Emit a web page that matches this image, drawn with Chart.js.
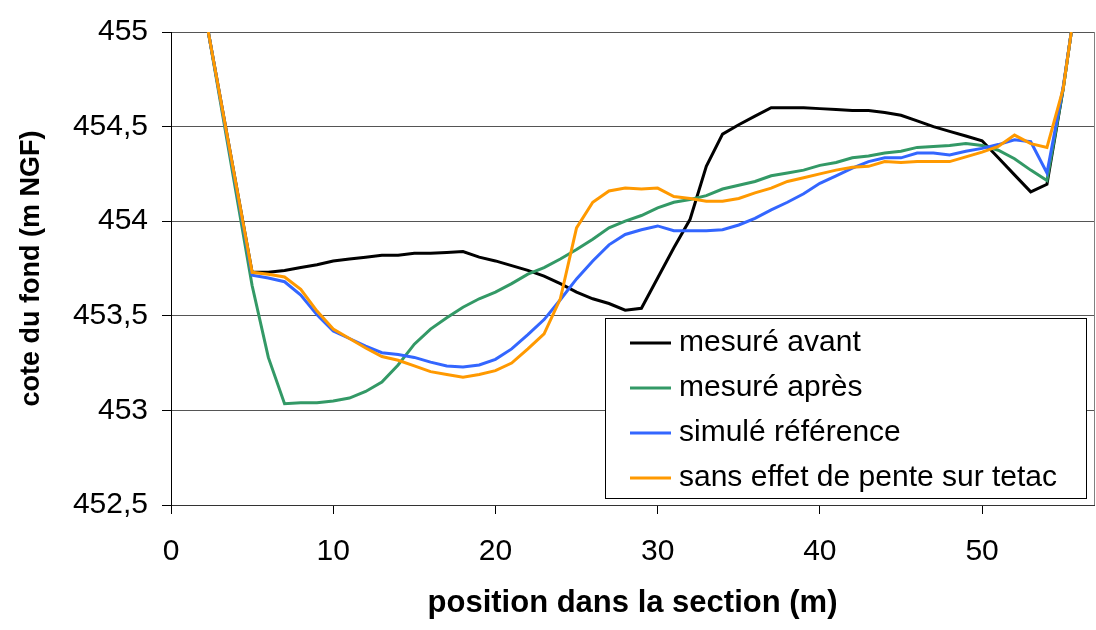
<!DOCTYPE html>
<html>
<head>
<meta charset="utf-8">
<script src="https://cdn.jsdelivr.net/npm/chart.js@4.4.1/dist/chart.umd.min.js"></script>
<style>
  body { margin: 0; background: #fff; }
  #wrap { width: 1096px; height: 630px; }
</style>
</head>
<body>
<div id="wrap"><canvas id="profileChart"></canvas></div>
<script>
const ctx = document.getElementById('profileChart').getContext('2d');

// position dans la section (m)
const positions = [2.3,
  5, 6, 7, 8, 9, 10, 11, 12, 13, 14,
  15, 16, 17, 18, 19, 20, 21, 22, 23, 24,
  25, 26, 27, 28, 29, 30, 31, 32, 33, 34,
  35, 36, 37, 38, 39, 40, 41, 42, 43, 44,
  45, 46, 47, 48, 49, 50, 51, 52, 53, 54,
  55, 55.5];

// cote du fond (m NGF)
const mesureAvant = [455,
  453.73, 453.73, 453.74, 453.755, 453.77, 453.79, 453.80, 453.81, 453.82, 453.82,
  453.83, 453.83, 453.835, 453.84, 453.81, 453.79, 453.765, 453.74, 453.71, 453.67,
  453.625, 453.59, 453.565, 453.53, 453.54, 453.70, 453.86, 454.01, 454.29, 454.46,
  454.51, 454.555, 454.60, 454.60, 454.60, 454.595, 454.59, 454.585, 454.585, 454.575,
  454.56, 454.53, 454.50, 454.475, 454.45, 454.425, 454.335, 454.245, 454.155, 454.195,
  454.70, 455];

const mesureApres = [455,
  453.66, 453.28, 453.035, 453.04, 453.04, 453.05, 453.065, 453.10, 453.15, 453.24,
  453.35, 453.43, 453.49, 453.545, 453.59, 453.625, 453.67, 453.72, 453.755, 453.80,
  453.85, 453.905, 453.965, 454.00, 454.03, 454.07, 454.10, 454.115, 454.135, 454.17,
  454.19, 454.21, 454.24, 454.255, 454.27, 454.295, 454.31, 454.335, 454.345, 454.36,
  454.37, 454.39, 454.395, 454.40, 454.41, 454.40, 454.375, 454.33, 454.27, 454.215,
  454.70, 455];

const simuleReference = [455,
  453.715, 453.70, 453.68, 453.61, 453.505, 453.42, 453.38, 453.34, 453.305, 453.295,
  453.28, 453.255, 453.235, 453.23, 453.24, 453.27, 453.325, 453.40, 453.48, 453.585,
  453.695, 453.79, 453.875, 453.93, 453.955, 453.975, 453.95, 453.95, 453.95, 453.955,
  453.98, 454.015, 454.06, 454.10, 454.145, 454.20, 454.24, 454.28, 454.315, 454.335,
  454.335, 454.36, 454.36, 454.35, 454.37, 454.385, 454.405, 454.43, 454.42, 454.255,
  454.71, 455];

const sansEffetPente = [455,
  453.73, 453.72, 453.705, 453.64, 453.525, 453.43, 453.38, 453.33, 453.285, 453.265,
  453.235, 453.205, 453.19, 453.175, 453.19, 453.21, 453.25, 453.325, 453.405, 453.59,
  453.965, 454.10, 454.16, 454.175, 454.17, 454.175, 454.13, 454.12, 454.105, 454.105,
  454.12, 454.15, 454.175, 454.21, 454.23, 454.25, 454.27, 454.285, 454.29, 454.315,
  454.31, 454.315, 454.315, 454.315, 454.34, 454.365, 454.395, 454.455, 454.41, 454.39,
  454.70, 455];

const FONT = '"Liberation Sans", Arial, sans-serif';

function toPoints(values) {
    return positions.map((x, i) => ({ x: x, y: values[i] }));
}

// plot frame + legend box drawn inside the plot area, like the excel chart
const framePlugin = {
    id: 'frame',
    beforeDatasetsDraw(chart) {
        const { ctx, chartArea: a } = chart;
        ctx.save();
        ctx.strokeStyle = '#808080';
        ctx.lineWidth = 1;
        ctx.beginPath();
        ctx.moveTo(a.right + 0.5, a.top);
        ctx.lineTo(a.right + 0.5, a.bottom);
        ctx.stroke();
        ctx.restore();
    },
    afterDraw(chart) {
        const { ctx, chartArea: a } = chart;
        const boxW = 481, boxH = 180;
        const x0 = a.right - 8 - boxW;
        const y0 = a.bottom - 7 - boxH;
        ctx.save();
        ctx.fillStyle = '#fff';
        ctx.fillRect(x0, y0, boxW, boxH);
        ctx.strokeStyle = '#000';
        ctx.lineWidth = 1;
        ctx.strokeRect(x0 + 0.5, y0 + 0.5, boxW, boxH);
        ctx.font = '30px ' + FONT;
        ctx.textBaseline = 'middle';
        ctx.fillStyle = '#000';
        chart.data.datasets.forEach((ds, i) => {
            const y = y0 + 25 + i * 45;
            ctx.strokeStyle = ds.borderColor;
            ctx.lineWidth = 3;
            ctx.beginPath();
            ctx.moveTo(x0 + 25, y);
            ctx.lineTo(x0 + 66, y);
            ctx.stroke();
            ctx.fillText(ds.label, x0 + 74, y);
        });
        ctx.restore();
    }
};

const chart = new Chart(ctx, {
    type: 'line',
    data: {
        datasets: [
            { label: 'mesuré avant', data: toPoints(mesureAvant), borderColor: '#000000', order: 3 },
            { label: 'mesuré après', data: toPoints(mesureApres), borderColor: '#339966', order: 2 },
            { label: 'simulé référence', data: toPoints(simuleReference), borderColor: '#3366ff', order: 1 },
            { label: 'sans effet de pente sur tetac', data: toPoints(sansEffetPente), borderColor: '#ff9900', order: 0 }
        ]
    },
    options: {
        responsive: true,
        maintainAspectRatio: false,
        animation: false,
        layout: { padding: { left: 0, top: 31, right: 2, bottom: 0 } },
        elements: {
            line: { borderWidth: 3, tension: 0, fill: false },
            point: { radius: 0, hoverRadius: 0 }
        },
        scales: {
            x: {
                type: 'linear',
                min: 0,
                max: 56.9,
                afterFit: (scale) => { scale.height = 125; },
                ticks: {
                    stepSize: 10,
                    includeBounds: false,
                    color: '#000',
                    padding: 20,
                    maxRotation: 0,
                    font: { family: FONT, size: 30 }
                },
                grid: { drawOnChartArea: false, drawTicks: true, tickLength: 9, color: '#000' },
                border: { display: true, color: '#333', width: 1 },
                title: {
                    display: true,
                    text: 'position dans la section (m)',
                    color: '#000',
                    padding: { top: 0, bottom: 8 },
                    font: { family: FONT, size: 31, weight: 'bold' }
                }
            },
            y: {
                min: 452.5,
                max: 455,
                afterFit: (scale) => { scale.width = 171; },
                ticks: {
                    stepSize: 0.5,
                    color: '#000',
                    padding: 14,
                    font: { family: FONT, size: 30 },
                    callback: (value) => String(value).replace('.', ',')
                },
                grid: { color: '#555', tickColor: '#000', drawTicks: true, tickLength: 9 },
                border: { display: true, color: '#000', width: 1 },
                title: {
                    display: true,
                    text: 'cote du fond (m NGF)',
                    color: '#000',
                    padding: { top: 15, bottom: 0 },
                    font: { family: FONT, size: 27, weight: 'bold' }
                }
            }
        },
        plugins: {
            legend: { display: false },
            tooltip: { enabled: false }
        }
    },
    plugins: [framePlugin]
});
</script>
</body>
</html>
